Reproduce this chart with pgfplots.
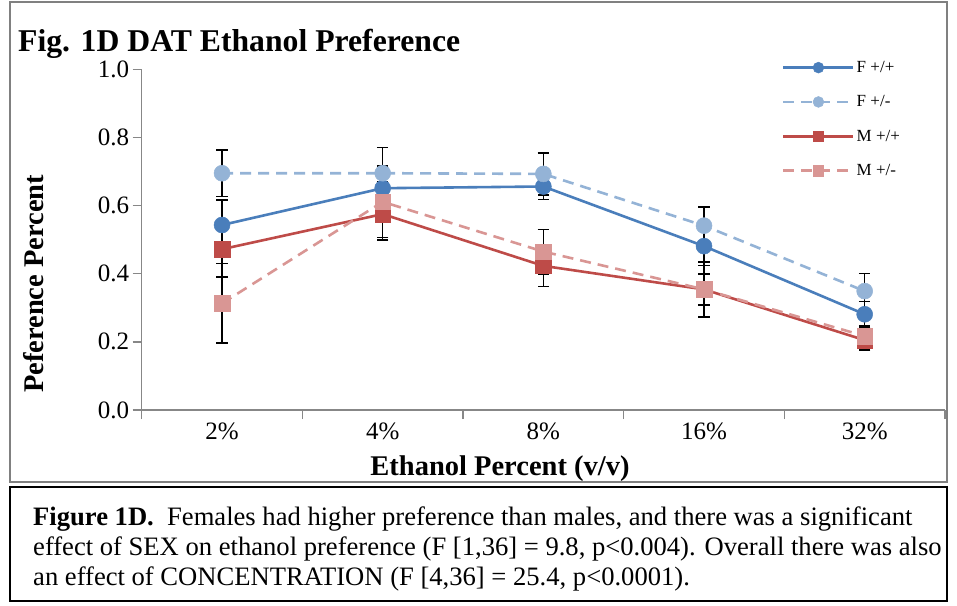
\documentclass[border=0pt]{standalone}
\usepackage{fontspec}
\setmainfont{Liberation Serif}
\usepackage{pgfplots}
\usepackage{pgfplotstable}
\pgfplotsset{compat=1.18}

\definecolor{fhom}{HTML}{4A7EBB}
\definecolor{fhet}{HTML}{94B3D6}
\definecolor{mhom}{HTML}{BE4B48}
\definecolor{mhet}{HTML}{D99694}
\definecolor{axgray}{HTML}{878787}
\definecolor{framegray}{HTML}{808080}

% mean preference and SEM per concentration (index 0..4 = 2%..32%)
\pgfplotstableread{
x  fa    fae   fb    fbe   ma    mae   mb    mbe
0  0.543 0.073 0.695 0.068 0.472 0.081 0.313 0.117
1  0.651 0.020 0.695 0.076 0.575 0.076 0.611 0.105
2  0.656 0.038 0.693 0.062 0.423 0.061 0.465 0.065
3  0.481 0.057 0.541 0.054 0.354 0.081 0.354 0.046
4  0.281 0.037 0.349 0.052 0.205 0.029 0.217 0.030
}\prefdata

\pgfplotsset{
  errbar/.style={only marks, mark=none, forget plot,
    error bars/.cd, y dir=both, y explicit, error mark=-,
    error bar style={black, solid, line width=1.6pt},
    error mark options={black, solid, line width=1.6pt, mark size=5.7pt, rotate=90}},
  series/.style={line width=2.6pt, mark options={solid, line width=0.5pt}},
}

\begin{document}
\begin{tikzpicture}
\useasboundingbox (0pt,0pt) rectangle (957pt,605pt);
\draw[framegray, line width=1.5pt] (10pt,123pt) rectangle (947pt,603pt);
\draw[black, line width=2pt] (10pt,4pt) rectangle (947pt,118pt);

\node[anchor=base west, inner sep=0pt, font=\fontsize{31.7}{37}\selectfont\bfseries]
  at (18pt,553pt) {Fig. 1D DAT Ethanol Preference};

\begin{axis}[
  scale only axis, width=803.3pt, height=340.7pt,
  at={(141.7pt,195pt)}, anchor=south west,
  xmin=-0.5, xmax=4.5, ymin=0, ymax=1,
  axis x line=bottom, axis y line=left,
  axis line style={-, draw=axgray, line width=1.4pt},
  tick align=outside, major tick length=9pt,
  tick style={draw=axgray, line width=1.4pt},
  xtick={-0.5,0.5,1.5,2.5,3.5,4.5},
  x tick label as interval,
  xticklabels={2\%,4\%,8\%,16\%,32\%},
  ytick={0,0.2,0.4,0.6,0.8,1.0},
  yticklabel style={/pgf/number format/.cd, fixed, fixed zerofill, precision=1},
  /pgf/number format/assume math mode=true,
  tick label style={font=\fontsize{25}{30}\selectfont},
  xlabel={Ethanol Percent (v/v)},
  xlabel style={at={(axis description cs:0.446,-0.172)}, anchor=center,
    font=\fontsize{28.5}{34}\selectfont\bfseries},
  ylabel={Peference Percent},
  ylabel style={at={(axis description cs:-0.135,0.37)}, anchor=center,
    font=\fontsize{28.5}{34}\selectfont\bfseries},
  legend style={at={(axis description cs:0.797,1.03)}, anchor=north west,
    draw=none, fill=none, inner sep=0pt, row sep=17.6pt,
    font=\fontsize{17}{20}\selectfont},
  legend cell align=left,
  legend image code/.code={\draw[mark repeat=2, mark phase=2,
      /tikz/every mark/.append style={scale=0.68}]
      plot coordinates {(0pt,0pt)(35pt,0pt)(70pt,0pt)};},
]
% error bars first, so the markers sit on top of them
\addplot[errbar] table[x=x, y=fa, y error=fae] {\prefdata};
\addplot[errbar] table[x=x, y=fb, y error=fbe] {\prefdata};
\addplot[errbar] table[x=x, y=ma, y error=mae] {\prefdata};
\addplot[errbar] table[x=x, y=mb, y error=mbe] {\prefdata};

\addplot[series, fhom, mark=*, mark size=8pt] table[x=x, y=fa] {\prefdata};
\addlegendentry{F +/+}
\addplot[series, fhet, dash pattern=on 11pt off 7pt, mark=*, mark size=8pt] table[x=x, y=fb] {\prefdata};
\addlegendentry{F +/-}
\addplot[series, mhom, mark=square*, mark size=7.8pt] table[x=x, y=ma] {\prefdata};
\addlegendentry{M +/+}
\addplot[series, mhet, dash pattern=on 11pt off 7pt, mark=square*, mark size=7.8pt] table[x=x, y=mb] {\prefdata};
\addlegendentry{M +/-}
\end{axis}

\node[anchor=north west, inner sep=0pt, align=left, font=\fontsize{26.6}{30}\selectfont]
  at (33pt,98pt) {\textbf{Figure 1D.}\ \ Females had higher preference than males, and there was a significant\\
  effect of SEX on ethanol preference (F [1,36] = 9.8, p<0.004). Overall there was also\\
  an effect of CONCENTRATION (F [4,36] = 25.4, p<0.0001).};
\end{tikzpicture}
\end{document}
